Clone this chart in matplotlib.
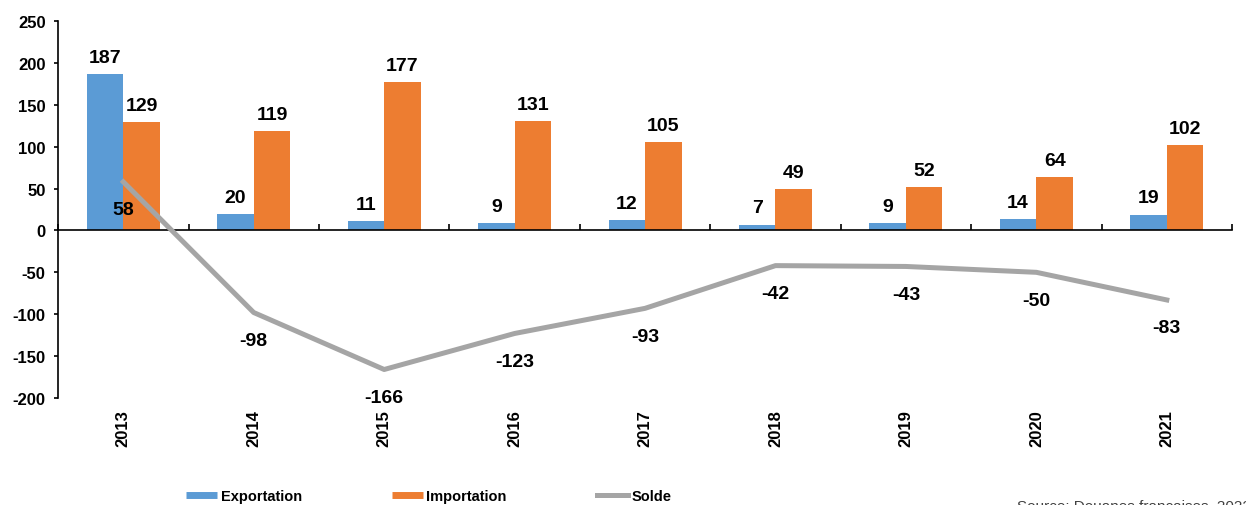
import matplotlib.pyplot as plt
import numpy as np
from matplotlib.lines import Line2D

plt.rcParams['font.family'] = ['Liberation Sans', 'DejaVu Sans']
plt.rcParams['axes.unicode_minus'] = False

years = ["2013", "2014", "2015", "2016", "2017", "2018", "2019", "2020", "2021"]
exportation = [187, 20, 11, 9, 12, 7, 9, 14, 19]
importation = [129, 119, 177, 131, 105, 49, 52, 64, 102]
solde = [58, -98, -166, -123, -93, -42, -43, -50, -83]

blue = "#5B9BD5"
orange = "#ED7D31"
grey = "#A5A5A5"

fig = plt.figure(figsize=(12.46, 5.06), dpi=100)
ax = fig.add_axes([0.0466, 0.2115, 0.9422, 0.745])

x = np.arange(len(years))
w = 0.28
ax.bar(x - w / 2, exportation, w, color=blue, zorder=2)
ax.bar(x + w / 2, importation, w, color=orange, zorder=2)
ax.plot(x, solde, color=grey, lw=3.6, zorder=3)

for i in range(len(years)):
    ax.annotate(str(exportation[i]), (x[i] - w / 2, exportation[i]), xytext=(0, 12),
                textcoords="offset points", ha="center", va="center",
                fontsize=14, fontweight="bold", zorder=4)
    ax.annotate(str(importation[i]), (x[i] + w / 2, importation[i]), xytext=(0, 12),
                textcoords="offset points", ha="center", va="center",
                fontsize=14, fontweight="bold", zorder=4)
    ax.annotate(str(solde[i]), (x[i], solde[i]), xytext=(0, -20),
                textcoords="offset points", ha="center", va="center",
                fontsize=14, fontweight="bold", zorder=4)

ax.set_xlim(-0.5, len(years) - 0.5)
ax.set_ylim(-200, 250)
ax.set_yticks(range(-200, 251, 50))
ax.tick_params(axis="y", direction="out", length=3, width=1.2, labelsize=12, pad=6)
for lab in ax.get_yticklabels():
    lab.set_fontweight("bold")

for s in ["top", "right"]:
    ax.spines[s].set_visible(False)
ax.spines["left"].set_linewidth(1.2)
ax.spines["bottom"].set_position(("data", 0))
ax.spines["bottom"].set_linewidth(1.2)
ax.set_xticks(np.arange(-0.5, len(years), 1.0))
ax.tick_params(axis="x", direction="in", length=4, width=1.2, labelbottom=False)

sec = ax.secondary_xaxis(0.0)
sec.set_xticks(x)
sec.set_xticklabels(years, rotation=90, fontweight="bold", fontsize=12)
sec.tick_params(length=0, pad=8)
sec.spines["bottom"].set_visible(False)

handles = [Line2D([], [], color=blue, lw=5, solid_capstyle="butt"),
           Line2D([], [], color=orange, lw=5, solid_capstyle="butt"),
           Line2D([], [], color=grey, lw=3.6)]
fig.legend(handles, ["Exportation", "Importation", "Solde"], loc="center left",
           bbox_to_anchor=(0.139, 0.018), ncol=3, frameon=False,
           prop={"weight": "bold", "size": 10.5}, handlelength=2.1,
           handletextpad=0.25, columnspacing=6.2)

fig.text(0.816, 0.012, "Source: Douanes françaises, 2022", ha="left", va="top",
         fontsize=11, color="#404040")

fig.savefig("out.png", dpi=100)
